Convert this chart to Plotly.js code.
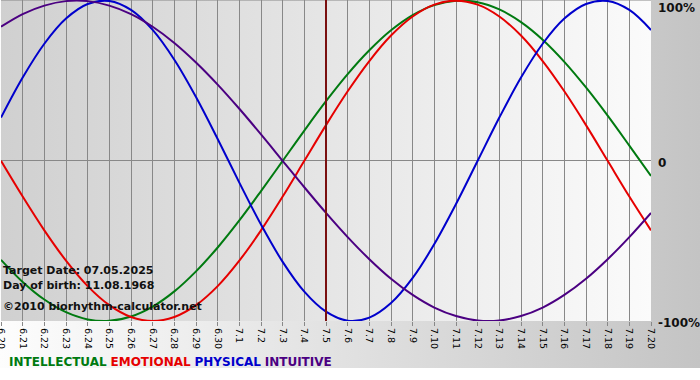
<!DOCTYPE html>
<html><head><meta charset="utf-8">
<script src="https://cdn.plot.ly/plotly-3.0.1.min.js"></script>
<style>
html,body{margin:0;padding:0;background:#fff;overflow:hidden;}
#wrap{position:relative;width:700px;height:380px;background:linear-gradient(to bottom, rgba(255,255,255,0) 368px, #fff 368px), linear-gradient(to right,#fdfdfd,#c4c4c4);}
#pbg{position:absolute;left:1px;top:0;width:650px;height:321px;background:linear-gradient(to right,#d0d0d0,#fbfbfb);}
#chart{position:absolute;left:0;top:0;width:700px;height:380px;}
</style></head>
<body>
<div id="wrap"><div id="pbg"></div><div id="chart"></div></div>
<script>
const days = ['6.20','6.21','6.22','6.23','6.24','6.25','6.26','6.27','6.28','6.29','6.30',
  '7.1','7.2','7.3','7.4','7.5','7.6','7.7','7.8','7.9','7.10','7.11','7.12','7.13','7.14','7.15','7.16','7.17','7.18','7.19','7.20'];
const intellectual = [-0.618,-0.756,-0.866,-0.945,-0.990,-0.999,-0.972,-0.910,-0.815,-0.690,-0.541,-0.372,-0.189,0,0.189,0.372,0.541,0.690,0.815,0.910,0.972,0.999,0.990,0.945,0.866,0.756,0.618,0.458,0.282,0.095,-0.095];
const emotional = [0,-0.223,-0.434,-0.623,-0.782,-0.901,-0.975,-1,-0.975,-0.901,-0.782,-0.623,-0.434,-0.223,0,0.223,0.434,0.623,0.782,0.901,0.975,1,0.975,0.901,0.782,0.623,0.434,0.223,0,-0.223,-0.434];
const physical = [0.270,0.520,0.731,0.888,0.979,0.998,0.942,0.817,0.631,0.398,0.136,-0.136,-0.398,-0.631,-0.817,-0.942,-0.998,-0.979,-0.888,-0.731,-0.520,-0.270,0,0.270,0.520,0.731,0.888,0.979,0.998,0.942,0.817];
const intuitive = [0.837,0.916,0.969,0.997,0.997,0.969,0.916,0.837,0.736,0.614,0.476,0.325,0.165,0,-0.165,-0.325,-0.476,-0.614,-0.736,-0.837,-0.916,-0.969,-0.997,-0.997,-0.969,-0.916,-0.837,-0.736,-0.614,-0.476,-0.325];
const yGridVals = [-1, 0, 1];
const yLabelVals = [-1, 0, 0.965];
const yTickText = ['-100%', '0', '100%'];
const targetDay = '7.5';
const infoLines = ['Target Date: 07.05.2025', 'Day of birth: 11.08.1968', '©2010 biorhythm-calculator.net'];
const seriesNames = ['INTELLECTUAL', 'EMOTIONAL', 'PHYSICAL', 'INTUITIVE'];
const colors = ['#007a10', '#e60000', '#0000cc', '#4b0082'];

const seriesData = [intellectual, emotional, physical, intuitive];
const traces = seriesData.map((v, i) => ({
  x: days, y: v, type: 'scatter', mode: 'lines', name: seriesNames[i],
  yaxis: i === 3 ? 'y2' : 'y',
  line: {color: colors[i], width: 2, shape: 'spline', smoothing: 1},
  hoverinfo: 'skip'
}));

const fontFam = 'DejaVu Sans, Verdana, sans-serif';
function ann(text, x, y, size) {
  return {text: text, x: x, y: y, xref: 'paper', yref: 'paper', xanchor: 'left', yanchor: 'middle',
    showarrow: false, font: {family: fontFam, size: size, color: '#111'}};
}
const anns = [
  ann('<b>' + infoLines[0] + '</b>', 0, 0.157, 11),
  ann('<b>' + infoLines[1] + '</b>', 0, 0.110, 11),
  ann('<b>' + infoLines[2] + '</b>', 0, 0.044, 11),
  ann(seriesNames.map((n, i) => '<span style="color:' + colors[i] + '"><b>' + n + '</b></span>').join(' '), 0.009, -0.128, 12)
];

const yRange = [-1, 1.004];
const layout = {
  width: 700, height: 380,
  margin: {l: 1, r: 49, t: 0, b: 59, pad: 0},
  paper_bgcolor: 'rgba(0,0,0,0)', plot_bgcolor: 'rgba(0,0,0,0)',
  showlegend: false,
  xaxis: {
    type: 'category', range: [0, days.length - 1], tickangle: 90,
    showgrid: true, gridcolor: '#888', gridwidth: 1,
    ticks: 'outside', ticklen: 4, tickcolor: '#888',
    tickfont: {family: fontFam, size: 9.5, color: '#000'},
    zeroline: false, showline: false, fixedrange: true
  },
  yaxis: {
    range: yRange, side: 'right', tickvals: yGridVals, showticklabels: false,
    showgrid: true, gridcolor: '#888', gridwidth: 1, zeroline: false,
    ticks: '', showline: false, fixedrange: true
  },
  yaxis2: {
    range: yRange, side: 'right', overlaying: 'y', anchor: 'x',
    tickvals: yLabelVals, ticktext: yTickText, ticklabelshift: 2, ticklabeloverflow: 'allow',
    showgrid: false, zeroline: false, ticks: '', ticklabelstandoff: 6,
    tickfont: {family: fontFam, size: 12, color: '#111', weight: 'bold'},
    showline: false, fixedrange: true
  },
  shapes: [
    {type: 'line', xref: 'x', yref: 'paper', x0: days.indexOf(targetDay), x1: days.indexOf(targetDay), y0: 0, y1: 1,
     line: {color: '#7a1010', width: 2}, layer: 'above'},
    {type: 'line', xref: 'paper', yref: 'paper', x0: 0, x1: 1, y0: 1, y1: 1,
     line: {color: '#888', width: 1}, layer: 'below'}
  ],
  annotations: anns
};
Plotly.newPlot('chart', traces, layout, {displayModeBar: false, staticPlot: true});
</script>
</body></html>
